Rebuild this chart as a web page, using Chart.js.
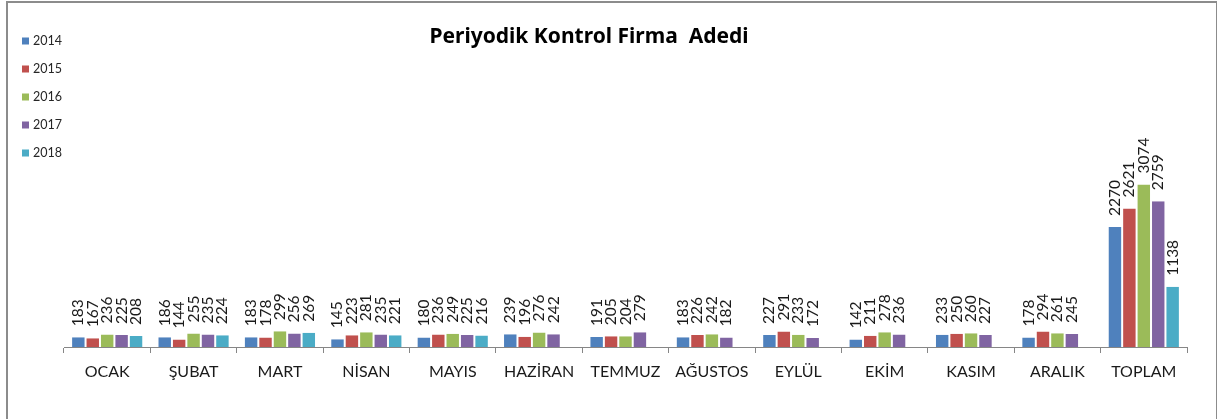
<!DOCTYPE html>
<html>
<head>
<meta charset="utf-8">
<script src="https://cdn.jsdelivr.net/npm/chart.js@4/dist/chart.umd.min.js"></script>
<style>
    body { margin: 0; background: #fff; }
    #frame { position: absolute; left: 6px; top: 1px; width: 1208px; height: 430px; border: 2px solid #8c8c8c; }
    #chart { position: absolute; left: 0; top: 0; }
</style>
</head>
<body>
<div id="frame"></div>
<canvas id="chart" width="1217" height="419"></canvas>
<script>
const months = ['OCAK', 'ŞUBAT', 'MART', 'NİSAN', 'MAYIS', 'HAZİRAN', 'TEMMUZ', 'AĞUSTOS', 'EYLÜL', 'EKİM', 'KASIM', 'ARALIK', 'TOPLAM'];
const years = ['2014', '2015', '2016', '2017', '2018'];
const colors = ['#4F81BD', '#C0504D', '#9BBB59', '#8064A2', '#4BACC6'];

const values2014 = [183, 186, 183, 145, 180, 239, 191, 183, 227, 142, 233, 178, 2270];
const values2015 = [167, 144, 178, 223, 236, 196, 205, 226, 291, 211, 250, 294, 2621];
const values2016 = [236, 255, 299, 281, 249, 276, 204, 242, 233, 278, 260, 261, 3074];
const values2017 = [225, 235, 256, 235, 225, 242, 279, 182, 172, 236, 227, 245, 2759];
const values2018 = [208, 224, 269, 221, 216, null, null, null, null, null, null, null, 1138];
const allValues = [values2014, values2015, values2016, values2017, values2018];

const titleText = 'Periyodik Kontrol Firma  Adedi';

// value labels, rotated, above each bar
const barLabels = {
    id: 'barLabels',
    afterDatasetsDraw(chart) {
        const ctx = chart.ctx;
        ctx.save();
        ctx.font = '15.5px Lato';
        ctx.fillStyle = '#1a1a1a';
        ctx.textAlign = 'left';
        ctx.textBaseline = 'middle';
        chart.data.datasets.forEach((ds, i) => {
            chart.getDatasetMeta(i).data.forEach((bar, j) => {
                const v = ds.data[j];
                if (v === null || v === undefined) return;
                ctx.save();
                ctx.translate(bar.x, bar.y - 11);
                ctx.rotate(-Math.PI / 2);
                ctx.fillText(String(v), 0, 0);
                ctx.restore();
            });
        });
        ctx.restore();
    }
};

// title and left legend like the excel one
const sideLegend = {
    id: 'sideLegend',
    afterDraw(chart) {
        const ctx = chart.ctx;
        ctx.save();
        ctx.font = 'bold 21px "Noto Sans"';
        ctx.fillStyle = '#000';
        ctx.textAlign = 'center';
        ctx.textBaseline = 'middle';
        ctx.fillText(titleText, 589, 37);

        ctx.font = '12.5px Lato';
        ctx.textAlign = 'left';
        chart.data.datasets.forEach((ds, i) => {
            const y = 41 + i * 28;
            ctx.fillStyle = ds.backgroundColor;
            ctx.fillRect(22, y - 3.5, 7, 7);
            ctx.fillStyle = '#262626';
            ctx.fillText(ds.label, 33, y);
        });
        ctx.restore();
    }
};

const datasets = years.map((y, i) => ({
    label: y,
    data: allValues[i],
    backgroundColor: colors[i],
    borderColor: 'rgba(255,255,255,0.7)',
    borderWidth: { left: 1, right: 1, top: 0, bottom: 0 },
    categoryPercentage: 0.835,
    barPercentage: 1
}));

new Chart(document.getElementById('chart').getContext('2d'), {
    type: 'bar',
    data: { labels: months, datasets },
    options: {
        responsive: false,
        animation: false,
        layout: { padding: { left: 64, right: 30, top: 162, bottom: 0 } },
        plugins: {
            legend: { display: false },
            title: { display: false },
            tooltip: { enabled: false }
        },
        scales: {
            x: {
                grid: { drawOnChartArea: false, drawTicks: true, tickLength: 6, color: '#868686', offset: true },
                border: { color: '#868686', width: 1 },
                ticks: { color: '#1a1a1a', font: { family: 'Lato', size: 16 }, padding: 9, maxRotation: 0 },
                afterFit: (scale) => { scale.height = 72; }
            },
            y: {
                display: false,
                min: 0,
                max: 3500
            }
        }
    },
    plugins: [barLabels, sideLegend]
});
</script>
</body>
</html>
